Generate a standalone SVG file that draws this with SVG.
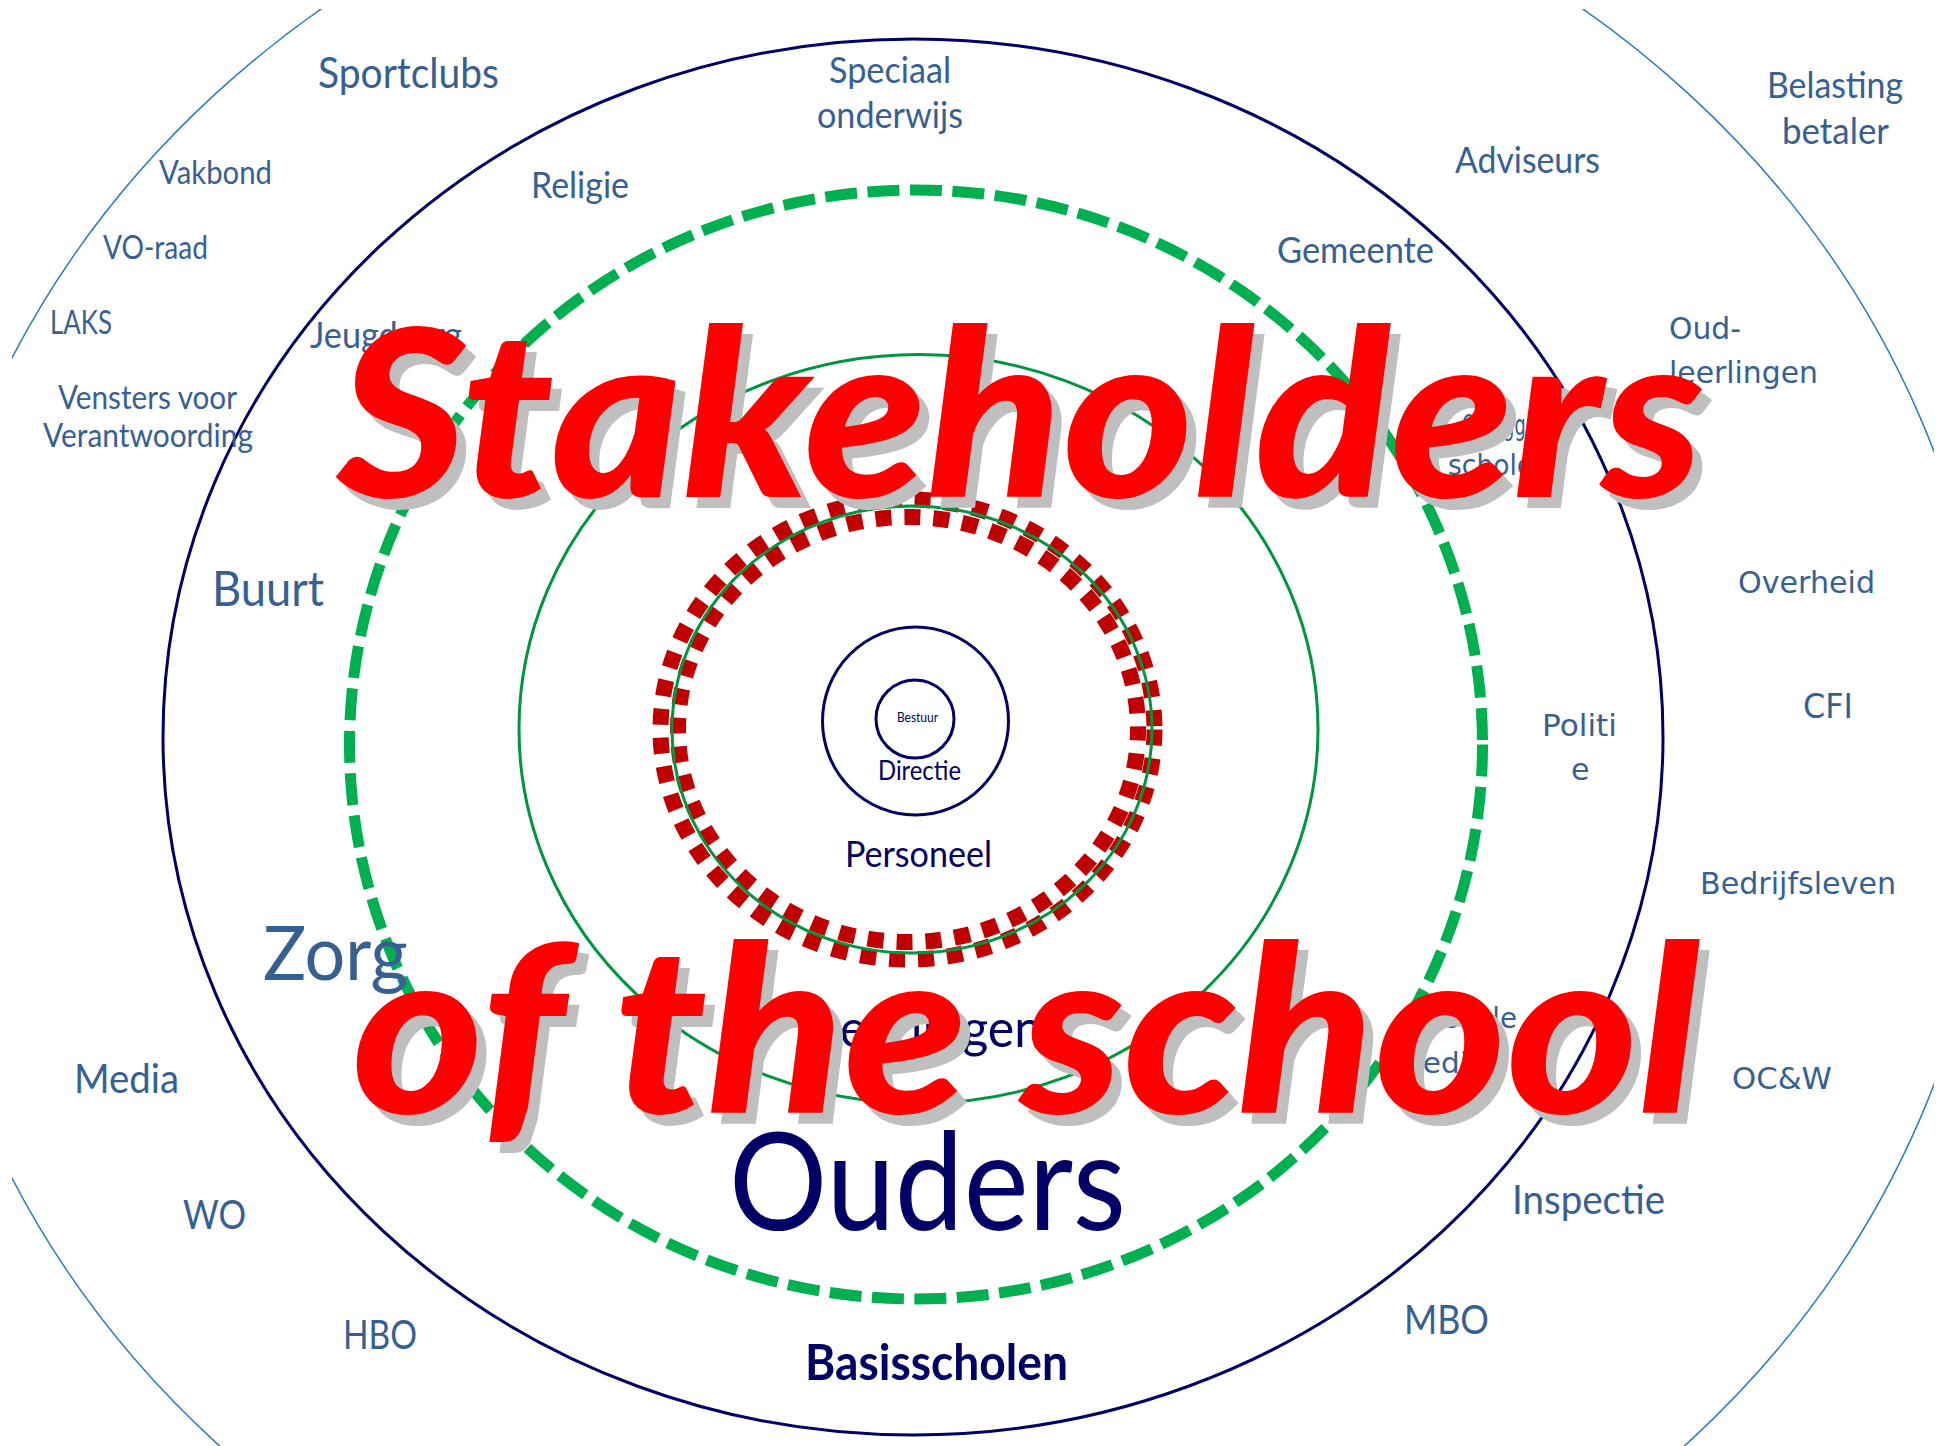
<svg xmlns="http://www.w3.org/2000/svg" width="1954" height="1446" viewBox="0 0 1954 1446">
<defs>
<clipPath id="clipOuter"><rect x="12" y="9" width="1922" height="1437"/></clipPath>
<style>
.ring-navy{fill:none;stroke:#000066;stroke-width:3}
.ring-green{fill:none;stroke:#00963F;stroke-width:3}
.ring-dash{fill:none;stroke:#00B050;stroke-width:11;stroke-dasharray:32 10.5}
.ring-red{fill:none;stroke:#C00000;stroke-width:16;stroke-dasharray:16 13}
.ring-outer{fill:none;stroke:#2E7BC4;stroke-width:1.5}
.lab{font-family:Lato,"Open Sans","Liberation Sans",sans-serif;fill:#376092}
.labv{font-family:"DejaVu Sans",Verdana,sans-serif;fill:#376092}
.nav{font-family:Lato,"Open Sans","Liberation Sans",sans-serif;fill:#000066}
.title{font-family:Lato,"Open Sans","Liberation Sans",sans-serif;font-weight:900;font-style:italic;font-size:232px}
</style>
</defs>
<rect x="0" y="0" width="1954" height="1446" fill="#ffffff"/>

<g id="rings">
<ellipse class="ring-outer" cx="952" cy="768" rx="1041" ry="954" clip-path="url(#clipOuter)"/>
<ellipse class="ring-navy" cx="913" cy="737" rx="750" ry="698"/>
<ellipse class="ring-dash" cx="916" cy="744.5" rx="566.5" ry="554.5"/>
<ellipse class="ring-green" cx="918.5" cy="729" rx="399.5" ry="374.5"/>
<ellipse class="ring-red" cx="907.5" cy="729.5" rx="247" ry="230"/>
<ellipse class="ring-red" cx="908" cy="729.5" rx="230" ry="212.5" style="stroke-dashoffset:5"/>
<ellipse class="ring-green" cx="912" cy="729.5" rx="240" ry="223.5"/>
<ellipse class="ring-navy" cx="915.5" cy="721" rx="93" ry="94"/>
<ellipse class="ring-navy" cx="915" cy="719" rx="39" ry="39"/>
</g>

<g id="node-core">
<text class="nav" x="897" y="722" font-size="13" textLength="41" lengthAdjust="spacingAndGlyphs">Bestuur</text>
<text class="nav" x="878" y="780" font-size="26" textLength="83" lengthAdjust="spacingAndGlyphs">Directie</text>
<text class="nav" x="845" y="867" font-size="36" textLength="147" lengthAdjust="spacingAndGlyphs">Personeel</text>
<text class="nav" x="816" y="1047" font-size="52" textLength="226" lengthAdjust="spacingAndGlyphs">Leerlingen</text>
<text class="nav" x="729" y="1230" font-size="136" textLength="397" lengthAdjust="spacingAndGlyphs">Ouders</text>
<text class="nav" x="805" y="1380" font-size="50" font-weight="bold" textLength="263" lengthAdjust="spacingAndGlyphs">Basisscholen</text>
</g>

<g id="node-left">
<text class="lab" x="318" y="88" font-size="42" textLength="181" lengthAdjust="spacingAndGlyphs">Sportclubs</text>
<text class="lab" x="159" y="184" font-size="32" textLength="113" lengthAdjust="spacingAndGlyphs">Vakbond</text>
<text class="lab" x="103" y="259" font-size="32" textLength="105" lengthAdjust="spacingAndGlyphs">VO-raad</text>
<text class="lab" x="50" y="334" font-size="32" textLength="62" lengthAdjust="spacingAndGlyphs">LAKS</text>
<text class="lab" x="58" y="409" font-size="32" textLength="179" lengthAdjust="spacingAndGlyphs">Vensters voor</text>
<text class="lab" x="43" y="447" font-size="32" textLength="210" lengthAdjust="spacingAndGlyphs">Verantwoording</text>
<text class="lab" x="310" y="348" font-size="36" textLength="152" lengthAdjust="spacingAndGlyphs">Jeugdzorg</text>
<text class="lab" x="531" y="198" font-size="36" textLength="98" lengthAdjust="spacingAndGlyphs">Religie</text>
<text class="lab" x="212" y="606" font-size="48" textLength="112" lengthAdjust="spacingAndGlyphs">Buurt</text>
<text class="lab" x="263" y="980" font-size="76" textLength="145" lengthAdjust="spacingAndGlyphs">Zorg</text>
<text class="lab" x="74" y="1093" font-size="40" textLength="105" lengthAdjust="spacingAndGlyphs">Media</text>
<text class="lab" x="183" y="1229" font-size="40" textLength="63" lengthAdjust="spacingAndGlyphs">WO</text>
<text class="lab" x="343" y="1349" font-size="40" textLength="74" lengthAdjust="spacingAndGlyphs">HBO</text>
</g>

<g id="node-top">
<text class="lab" x="829" y="83" font-size="36" textLength="122" lengthAdjust="spacingAndGlyphs">Speciaal</text>
<text class="lab" x="817" y="128" font-size="36" textLength="146" lengthAdjust="spacingAndGlyphs">onderwijs</text>
<text class="lab" x="1277" y="263" font-size="36" textLength="157" lengthAdjust="spacingAndGlyphs">Gemeente</text>
<text class="lab" x="1455" y="173" font-size="36" textLength="145" lengthAdjust="spacingAndGlyphs">Adviseurs</text>
<text class="lab" x="1767" y="98" font-size="36" textLength="136" lengthAdjust="spacingAndGlyphs">Belasting</text>
<text class="lab" x="1782" y="144" font-size="36" textLength="107" lengthAdjust="spacingAndGlyphs">betaler</text>
</g>

<g id="node-right">
<text class="labv" x="1669" y="339" font-size="31" textLength="72" lengthAdjust="spacingAndGlyphs">Oud-</text>
<text class="labv" x="1669" y="383" font-size="31" textLength="149" lengthAdjust="spacingAndGlyphs">leerlingen</text>
<text class="labv" x="1462" y="435" font-size="29" textLength="108" lengthAdjust="spacingAndGlyphs">Omliggende</text>
<text class="labv" x="1448" y="475" font-size="29" textLength="102" lengthAdjust="spacingAndGlyphs">scholen</text>
<text class="labv" x="1738" y="593" font-size="30" textLength="137" lengthAdjust="spacingAndGlyphs">Overheid</text>
<text class="labv" x="1803" y="718" font-size="33" textLength="50" lengthAdjust="spacingAndGlyphs">CFI</text>
<text class="labv" x="1542" y="736" font-size="30" textLength="75" lengthAdjust="spacingAndGlyphs">Politi</text>
<text class="labv" x="1571" y="780" font-size="30">e</text>
<text class="labv" x="1700" y="894" font-size="30" textLength="196" lengthAdjust="spacingAndGlyphs">Bedrijfsleven</text>
<text class="labv" x="1428" y="1028" font-size="29" textLength="89" lengthAdjust="spacingAndGlyphs">Lokale</text>
<text class="labv" x="1394" y="1073" font-size="29" textLength="92" lengthAdjust="spacingAndGlyphs">media</text>
<text class="labv" x="1732" y="1089" font-size="30" textLength="100" lengthAdjust="spacingAndGlyphs">OC&amp;W</text>
<text class="lab" x="1512" y="1214" font-size="40" textLength="153" lengthAdjust="spacingAndGlyphs">Inspectie</text>
<text class="lab" x="1404" y="1334" font-size="40" textLength="85" lengthAdjust="spacingAndGlyphs">MBO</text>
</g>

<g id="title">
<g transform="translate(10,11)" fill="#BFBFBF">
<text class="title" x="337" y="497" textLength="1367" lengthAdjust="spacingAndGlyphs">Stakeholders</text>
<text class="title" x="352" y="1113" textLength="1348" lengthAdjust="spacingAndGlyphs">of the school</text>
</g>
<g fill="#FF0000">
<text class="title" x="337" y="497" textLength="1367" lengthAdjust="spacingAndGlyphs">Stakeholders</text>
<text class="title" x="352" y="1113" textLength="1348" lengthAdjust="spacingAndGlyphs">of the school</text>
</g>
</g>
</svg>
